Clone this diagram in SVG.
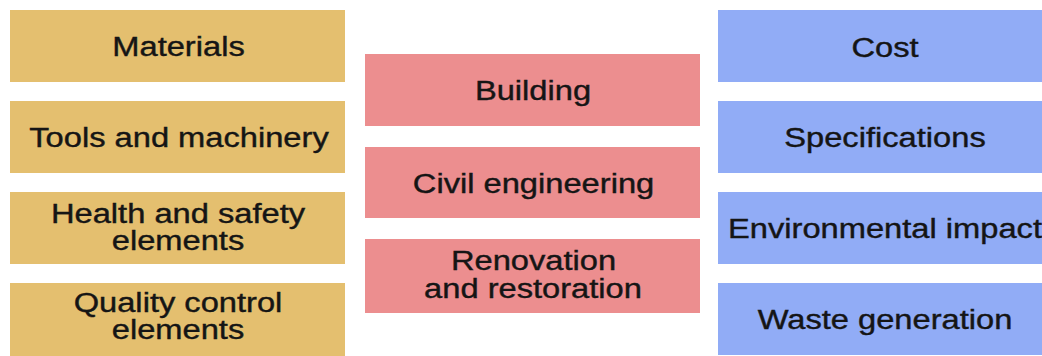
<svg xmlns="http://www.w3.org/2000/svg" width="1042" height="356" viewBox="0 0 1042 356">
<style>
.tan{fill:#E4BF6F}
.pink{fill:#EC8E8F}
.blue{fill:#91ACF6}
.t{font-family:"Liberation Sans",Arial,sans-serif;font-size:27px;fill:#151515;stroke:#151515;stroke-width:0.4;text-anchor:middle}
</style>
<rect width="1042" height="356" fill="#FFFFFF"/>
<g id="connectors"></g>
<g id="materials"><rect class="tan" x="10" y="10" width="335" height="72"/><text class="t" transform="translate(178.5,56) scale(1.21,1)">Materials</text></g>
<g id="tools"><rect class="tan" x="10" y="101" width="335" height="72"/><text class="t" transform="translate(179,147) scale(1.21,1)">Tools and machinery</text></g>
<g id="health"><rect class="tan" x="10" y="192" width="335" height="72"/><text class="t" transform="translate(178,223) scale(1.21,1)">Health and safety</text><text class="t" transform="translate(178,250) scale(1.21,1)">elements</text></g>
<g id="quality"><rect class="tan" x="10" y="283" width="335" height="73"/><text class="t" transform="translate(178,312) scale(1.21,1)">Quality control</text><text class="t" transform="translate(178,339) scale(1.21,1)">elements</text></g>
<g id="building"><rect class="pink" x="365" y="54" width="335" height="72"/><text class="t" transform="translate(533,100) scale(1.21,1)">Building</text></g>
<g id="civil"><rect class="pink" x="365" y="147" width="335" height="71"/><text class="t" transform="translate(533.5,193) scale(1.21,1)">Civil engineering</text></g>
<g id="renovation"><rect class="pink" x="365" y="239" width="335" height="74"/><text class="t" transform="translate(533.5,270) scale(1.21,1)">Renovation</text><text class="t" transform="translate(533,298) scale(1.21,1)">and restoration</text></g>
<g id="cost"><rect class="blue" x="718" y="10" width="340" height="72"/><text class="t" transform="translate(885,57) scale(1.21,1)">Cost</text></g>
<g id="specifications"><rect class="blue" x="718" y="101" width="340" height="72"/><text class="t" transform="translate(885,147) scale(1.21,1)">Specifications</text></g>
<g id="environmental"><rect class="blue" x="718" y="192" width="340" height="72"/><text class="t" transform="translate(885,238) scale(1.21,1)">Environmental impact</text></g>
<g id="waste"><rect class="blue" x="718" y="283" width="340" height="72"/><text class="t" transform="translate(885,329) scale(1.21,1)">Waste generation</text></g>
</svg>
